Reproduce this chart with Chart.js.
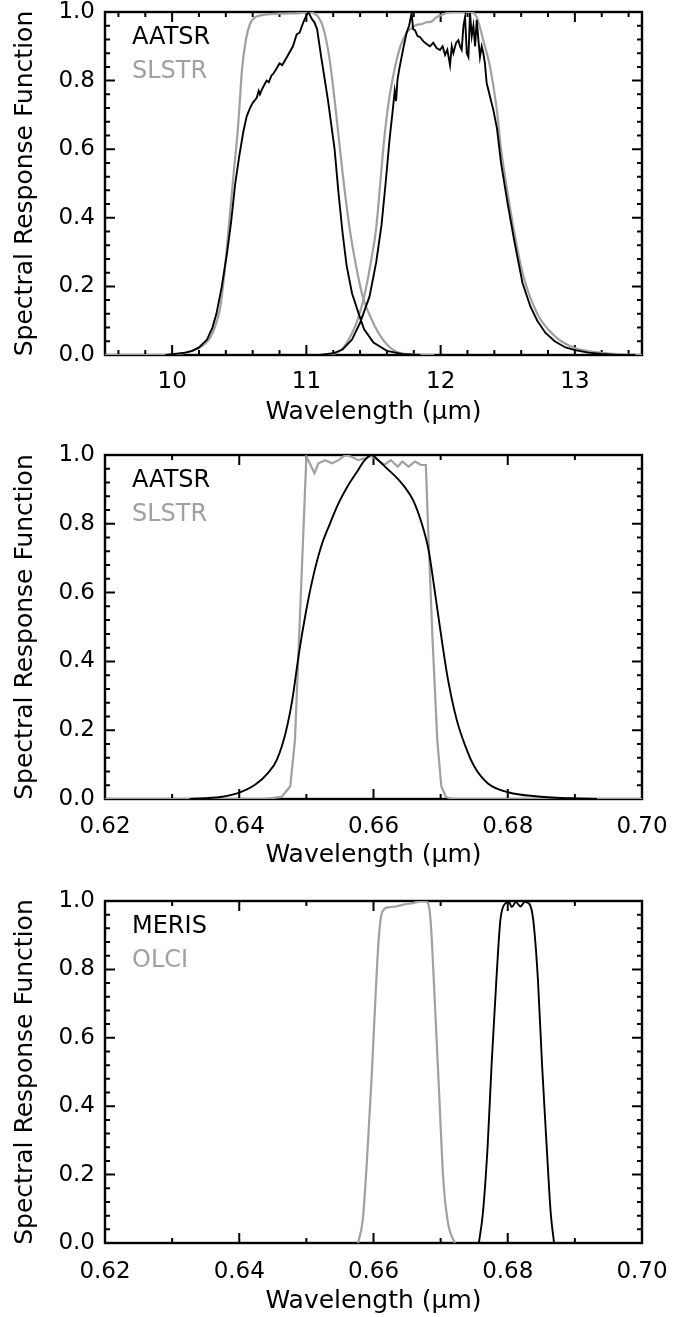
<!DOCTYPE html>
<html>
<head>
<meta charset="utf-8">
<title>Spectral Response Functions</title>
<script src="https://cdn.jsdelivr.net/npm/chart.js@4.4.0/dist/chart.umd.min.js"></script>
<style>
    body { margin: 0; background: #fff; }
    .panel { position: absolute; left: 0; width: 689px; }
</style>
</head>
<body>
<div class="panel" style="top:0px"><canvas id="thermal" width="689" height="440"></canvas></div>
<div class="panel" style="top:440px"><canvas id="red" width="689" height="440"></canvas></div>
<div class="panel" style="top:880px"><canvas id="ocean" width="689" height="437"></canvas></div>

<script>
// ---- data ----
// tick labels
var thermalTicks = [10, 11, 12, 13];
var visTicks = [0.62, 0.64, 0.66, 0.68, 0.70];
var srfTicks = [0, 0.2, 0.4, 0.6, 0.8, 1.0];

// panel 1: 11 and 12 micron channels
var aatsr11Wl = [9.95, 10.0, 10.1, 10.15, 10.2, 10.26, 10.3, 10.33, 10.37, 10.41, 10.44, 10.47, 10.5, 10.53, 10.555, 10.58, 10.6, 10.63, 10.645, 10.654, 10.67, 10.69, 10.704, 10.72, 10.74, 10.754, 10.77, 10.8, 10.82, 10.85, 10.878, 10.9, 10.928, 10.95, 10.977, 11.0, 11.015, 11.04, 11.06, 11.08, 11.11, 11.16, 11.21, 11.24, 11.27, 11.3, 11.34, 11.39, 11.43, 11.5, 11.6, 11.73, 11.85];
var aatsr11Srf = [0, 0.002, 0.007, 0.012, 0.022, 0.045, 0.08, 0.12, 0.2, 0.3, 0.39, 0.5, 0.58, 0.65, 0.695, 0.72, 0.735, 0.75, 0.77, 0.76, 0.775, 0.79, 0.8, 0.795, 0.815, 0.82, 0.83, 0.85, 0.845, 0.865, 0.885, 0.9, 0.935, 0.94, 0.97, 0.99, 1.0, 0.98, 0.97, 0.95, 0.87, 0.745, 0.6, 0.47, 0.355, 0.26, 0.18, 0.12, 0.075, 0.036, 0.012, 0.002, 0];

var slstr11Wl = [9.5, 9.95, 10.05, 10.12, 10.2, 10.25, 10.29, 10.33, 10.36, 10.39, 10.42, 10.456, 10.49, 10.506, 10.52, 10.55, 10.58, 10.62, 10.66, 10.8, 10.95, 11.02, 11.06, 11.09, 11.125, 11.17, 11.22, 11.27, 11.32, 11.37, 11.42, 11.49, 11.57, 11.66, 11.79, 11.95];
var slstr11Srf = [0, 0, 0.003, 0.009, 0.02, 0.035, 0.055, 0.095, 0.142, 0.24, 0.365, 0.52, 0.66, 0.75, 0.83, 0.92, 0.965, 0.985, 0.99, 0.995, 0.997, 1.0, 0.995, 0.985, 0.955, 0.87, 0.71, 0.53, 0.375, 0.26, 0.17, 0.1, 0.045, 0.012, 0.002, 0];

var aatsr12Wl = [11.1, 11.2, 11.27, 11.34, 11.4, 11.47, 11.52, 11.56, 11.59, 11.62, 11.645, 11.658, 11.668, 11.678, 11.69, 11.705, 11.725, 11.747, 11.765, 11.784, 11.795, 11.809, 11.828, 11.846, 11.87, 11.896, 11.92, 11.945, 11.97, 11.995, 12.015, 12.033, 12.05, 12.07, 12.083, 12.095, 12.115, 12.132, 12.145, 12.157, 12.17, 12.182, 12.195, 12.207, 12.219, 12.232, 12.244, 12.257, 12.269, 12.281, 12.293, 12.306, 12.318, 12.33, 12.343, 12.37, 12.393, 12.42, 12.45, 12.5, 12.55, 12.61, 12.67, 12.72, 12.78, 12.85, 12.93, 13.0, 13.1, 13.2, 13.3, 13.45];
var aatsr12Srf = [0, 0.005, 0.016, 0.045, 0.094, 0.17, 0.27, 0.38, 0.5, 0.63, 0.72, 0.77, 0.74, 0.8, 0.83, 0.86, 0.9, 0.94, 0.96, 0.997, 0.95, 0.947, 0.93, 0.927, 0.915, 0.907, 0.9, 0.91, 0.895, 0.889, 0.9, 0.875, 0.89, 0.845, 0.9, 0.88, 0.91, 0.918, 0.9, 0.89, 0.96, 0.985, 0.88, 0.869, 0.997, 0.93, 0.96, 0.9, 0.977, 0.92, 0.869, 0.9, 0.88, 0.85, 0.793, 0.75, 0.714, 0.66, 0.56, 0.44, 0.33, 0.21, 0.14, 0.1, 0.065, 0.04, 0.022, 0.014, 0.007, 0.003, 0.001, 0];

var slstr12Wl = [11.15, 11.2, 11.25, 11.3, 11.37, 11.43, 11.48, 11.52, 11.55, 11.58, 11.61, 11.65, 11.7, 11.747, 11.79, 11.82, 11.86, 11.896, 11.93, 11.97, 12.0, 12.045, 12.095, 12.15, 12.219, 12.269, 12.318, 12.368, 12.417, 12.45, 12.5, 12.55, 12.61, 12.72, 12.85, 13.0, 13.2, 13.35, 13.5];
var slstr12Srf = [0, 0.003, 0.012, 0.035, 0.09, 0.17, 0.27, 0.37, 0.5, 0.63, 0.73, 0.82, 0.9, 0.94, 0.955, 0.962, 0.965, 0.97, 0.972, 0.985, 0.99, 0.997, 1.0, 1.0, 1.0, 0.985, 0.917, 0.84, 0.72, 0.6, 0.47, 0.355, 0.24, 0.12, 0.055, 0.02, 0.006, 0.002, 0];

// panel 2: 0.66 micron channel
var aatsrRedWl = [0.6326, 0.6372, 0.6398, 0.6424, 0.6443, 0.6456, 0.6469, 0.6479, 0.6489, 0.6499, 0.6509, 0.6522, 0.6535, 0.6548, 0.6561, 0.6574, 0.6587, 0.6597, 0.6607, 0.662, 0.6633, 0.6646, 0.6659, 0.6672, 0.6682, 0.6691, 0.6701, 0.6711, 0.6724, 0.6737, 0.675, 0.677, 0.6802, 0.6841, 0.6894, 0.6933];
var aatsrRedSrf = [0, 0.006, 0.017, 0.042, 0.076, 0.114, 0.192, 0.288, 0.424, 0.54, 0.637, 0.734, 0.8, 0.86, 0.908, 0.947, 0.985, 1.0, 0.985, 0.961, 0.937, 0.908, 0.869, 0.8, 0.724, 0.608, 0.472, 0.347, 0.23, 0.153, 0.095, 0.046, 0.019, 0.008, 0.002, 0];

var slstrRedWl = [0.62, 0.6437, 0.6463, 0.6476, 0.6483, 0.6489, 0.6496, 0.65, 0.6505, 0.6512, 0.6518, 0.6528, 0.6538, 0.6548, 0.6558, 0.6567, 0.6577, 0.6587, 0.6597, 0.6607, 0.6616, 0.6626, 0.6636, 0.6643, 0.6652, 0.6662, 0.6671, 0.6678, 0.6682, 0.6688, 0.6695, 0.6701, 0.6708, 0.6717, 0.70];
var slstrRedSrf = [0, 0, 0.006, 0.037, 0.172, 0.463, 0.8, 0.995, 0.976, 0.947, 0.976, 0.985, 0.976, 0.985, 1.0, 0.995, 0.985, 0.99, 0.997, 0.985, 0.971, 0.985, 0.966, 0.981, 0.966, 0.981, 0.971, 0.971, 0.753, 0.463, 0.172, 0.037, 0.006, 0, 0];

// panel 3: MERIS / OLCI
var merisWl = [0.6757, 0.6763, 0.677, 0.6776, 0.6783, 0.6789, 0.6796, 0.6802, 0.6806, 0.6812, 0.6819, 0.6825, 0.6832, 0.6838, 0.6845, 0.6851, 0.6858, 0.6864, 0.6869];
var merisSrf = [0, 0.088, 0.282, 0.525, 0.768, 0.944, 0.992, 0.997, 0.982, 0.997, 0.984, 0.997, 0.992, 0.944, 0.768, 0.525, 0.282, 0.088, 0];

var olciWl = [0.6577, 0.6584, 0.659, 0.6597, 0.6603, 0.6608, 0.6613, 0.6623, 0.6633, 0.6646, 0.6659, 0.6672, 0.668, 0.6685, 0.6691, 0.6698, 0.6704, 0.6711, 0.6721];
var olciSrf = [0, 0.068, 0.233, 0.477, 0.72, 0.895, 0.968, 0.982, 0.984, 0.99, 0.994, 1.0, 0.997, 0.944, 0.72, 0.428, 0.185, 0.058, 0];

// ---- styling ----
var BLACK = '#000000';
var GREY = '#a0a0a0';
Chart.defaults.font.family = '"DejaVu Sans", sans-serif';
Chart.defaults.color = '#000';

function points(xs, ys) {
    return xs.map(function(x, i) { return {x: x, y: ys[i]}; });
}

function line(xs, ys, colour, width, smooth) {
    var ds = {
        data: points(xs, ys),
        showLine: true,
        borderColor: colour,
        borderWidth: width,
        pointRadius: 0,
        tension: 0,
        fill: false
    };
    if (smooth) ds.cubicInterpolationMode = 'monotone';
    return ds;
}

// minor/major tick values between min and max
function tickRange(min, max, step) {
    var out = [];
    for (var k = Math.ceil(min / step - 1e-6); k * step <= max + 1e-9; k++) out.push(k * step);
    return out;
}

// IDL style box with inward ticks on all four sides, plus the text legend
var idlFrame = {
    id: 'idlFrame',
    beforeDatasetsDraw: function(chart, args, opts) {
        var ctx = chart.ctx, a = chart.chartArea, x = chart.scales.x, y = chart.scales.y;
        ctx.save();
        ctx.strokeStyle = '#000';
        ctx.lineWidth = 2;
        ctx.beginPath();
        tickRange(x.min, x.max, opts.xMinor).forEach(function(v) {
            var px = x.getPixelForValue(v);
            var major = opts.xMajor.some(function(m) { return Math.abs(m - v) < opts.xMinor / 10; });
            var len = major ? 10 : 5;
            ctx.moveTo(px, a.bottom); ctx.lineTo(px, a.bottom - len);
            ctx.moveTo(px, a.top); ctx.lineTo(px, a.top + len);
        });
        tickRange(y.min, y.max, opts.yMinor).forEach(function(v) {
            var py = y.getPixelForValue(v);
            var major = opts.yMajor.some(function(m) { return Math.abs(m - v) < opts.yMinor / 10; });
            var len = major ? 10 : 5;
            ctx.moveTo(a.left, py); ctx.lineTo(a.left + len, py);
            ctx.moveTo(a.right, py); ctx.lineTo(a.right - len, py);
        });
        ctx.stroke();
        ctx.lineWidth = 2.4;
        ctx.strokeRect(a.left, a.top, a.right - a.left, a.bottom - a.top);
        ctx.restore();
    },
    afterDraw: function(chart, args, opts) {
        var ctx = chart.ctx, a = chart.chartArea;
        ctx.save();
        ctx.font = '24px "DejaVu Sans"';
        ctx.textBaseline = 'middle';
        ctx.textAlign = 'left';
        opts.legend.forEach(function(item, i) {
            ctx.fillStyle = item.colour;
            ctx.fillText(item.label, a.left + 27, a.top + 26 + i * 34);
        });
        ctx.restore();
    }
};

function makePanel(id, cfg) {
    var ctx = document.getElementById(id).getContext('2d');
    return new Chart(ctx, {
        type: 'scatter',
        data: {datasets: cfg.datasets},
        plugins: [idlFrame],
        options: {
            responsive: false,
            animation: false,
            events: [],
            devicePixelRatio: 1,
            layout: {padding: {left: 0, right: 47, top: cfg.top, bottom: 0}},
            plugins: {
                legend: {display: false},
                tooltip: {enabled: false},
                idlFrame: {
                    xMajor: cfg.xTicks, xMinor: cfg.xMinor,
                    yMajor: srfTicks, yMinor: 0.04,
                    legend: cfg.legend
                }
            },
            scales: {
                x: {
                    type: 'linear',
                    min: cfg.xMin,
                    max: cfg.xMax,
                    grid: {display: false, drawTicks: false},
                    border: {display: false},
                    afterBuildTicks: function(s) {
                        s.ticks = cfg.xTicks.map(function(v) { return {value: v}; });
                    },
                    afterFit: function(s) {
                        s.height = cfg.axisH;
                        s.paddingLeft = 0;
                        s.paddingRight = 0;
                    },
                    ticks: {
                        autoSkip: false,
                        maxRotation: 0,
                        padding: cfg.tickPad,
                        color: '#000',
                        font: {size: 23},
                        callback: function(v) { return Number(v).toFixed(cfg.digits); }
                    },
                    title: {
                        display: true,
                        text: 'Wavelength (μm)',
                        color: '#000',
                        font: {size: 25},
                        padding: {top: 0, bottom: cfg.titlePad}
                    }
                },
                y: {
                    type: 'linear',
                    min: 0,
                    max: 1,
                    grid: {display: false, drawTicks: false},
                    border: {display: false},
                    afterBuildTicks: function(s) {
                        s.ticks = srfTicks.map(function(v) { return {value: v}; });
                    },
                    afterFit: function(s) {
                        s.width = 105;
                        s.paddingTop = 0;
                        s.paddingBottom = 0;
                    },
                    ticks: {
                        autoSkip: false,
                        padding: 10,
                        color: '#000',
                        font: {size: 23},
                        callback: function(v) { return Number(v).toFixed(1); }
                    },
                    title: {
                        display: true,
                        text: 'Spectral Response Function',
                        color: '#000',
                        font: {size: 25},
                        padding: {top: 10, bottom: 0}
                    }
                }
            }
        }
    });
}

makePanel('thermal', {
    xMin: 9.5, xMax: 13.5, xTicks: thermalTicks, xMinor: 0.2, digits: 0,
    top: 12, axisH: 85, tickPad: 13, titlePad: 13,
    legend: [{label: 'AATSR', colour: BLACK}, {label: 'SLSTR', colour: GREY}],
    datasets: [
        line(aatsr11Wl, aatsr11Srf, BLACK, 1.9, false),
        line(aatsr12Wl, aatsr12Srf, BLACK, 1.9, false),
        line(slstr11Wl, slstr11Srf, GREY, 2.2, true),
        line(slstr12Wl, slstr12Srf, GREY, 2.2, true)
    ]
});

makePanel('red', {
    xMin: 0.62, xMax: 0.70, xTicks: visTicks, xMinor: 0.01, digits: 2,
    top: 15, axisH: 81, tickPad: 14, titlePad: 10,
    legend: [{label: 'AATSR', colour: BLACK}, {label: 'SLSTR', colour: GREY}],
    datasets: [
        line(aatsrRedWl, aatsrRedSrf, BLACK, 1.9, true),
        line(slstrRedWl, slstrRedSrf, GREY, 2.2, false)
    ]
});

makePanel('ocean', {
    xMin: 0.62, xMax: 0.70, xTicks: visTicks, xMinor: 0.01, digits: 2,
    top: 21, axisH: 74, tickPad: 15, titlePad: 1,
    legend: [{label: 'MERIS', colour: BLACK}, {label: 'OLCI', colour: GREY}],
    datasets: [
        line(merisWl, merisSrf, BLACK, 1.9, true),
        line(olciWl, olciSrf, GREY, 2.2, true)
    ]
});
</script>
</body>
</html>
